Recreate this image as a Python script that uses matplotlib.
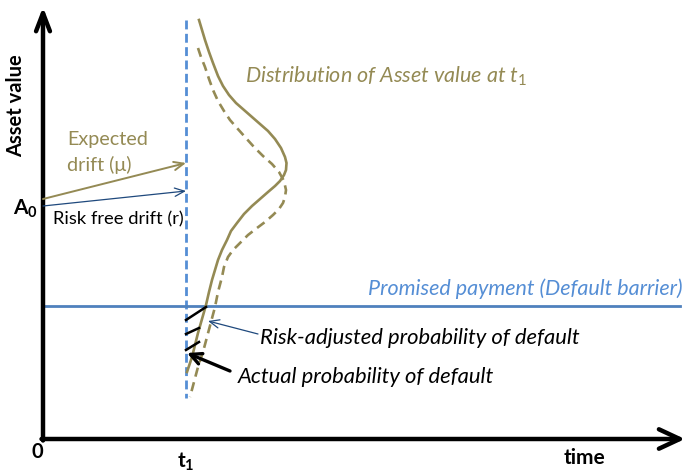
import matplotlib
matplotlib.use("Agg")
import matplotlib.pyplot as plt

plt.rcParams['font.family'] = ['Lato', 'DejaVu Sans']
plt.rcParams['mathtext.fontset'] = 'custom'
plt.rcParams['mathtext.rm'] = 'Lato'
plt.rcParams['mathtext.it'] = 'Lato:italic'
plt.rcParams['mathtext.bf'] = 'Lato:bold'

# ---- data (in canvas units: x to the right, y downward) ----
origin = (43, 439)
x_axis_end = 685
y_axis_end = 7
t1_x = 186
t1_line_top, t1_line_bottom = 20, 398
barrier_y = 306
barrier_x_end = 680
A0_y_expected = 199
A0_y_riskfree = 206
expected_drift_end = 163
riskfree_drift_end = 191

# distribution under the real-world (expected drift) measure
dist_real_x = [199, 202, 205, 209, 213, 218, 223, 229, 236, 244, 252, 260, 268, 275,
               281, 285, 286.5, 286, 284, 280, 275, 268, 260, 252, 244, 237, 231, 227,
               222, 218, 215, 212, 209, 206, 202, 198, 195, 192, 189, 187]
dist_real_y = [20, 30, 40, 52, 63, 76, 86, 95, 103, 110, 117, 124, 131, 139,
               148, 157, 163, 170, 175, 181, 186, 192, 199, 206, 214, 223, 231, 240,
               250, 260, 270, 280, 292, 305, 319, 333, 345, 357, 366, 372]
# distribution under the risk-neutral (risk-free drift) measure
dist_rn_x = [198, 201, 205, 209, 213, 218, 224, 230, 237, 245, 254, 263, 272, 279,
             284, 286, 285, 283, 279, 273, 265, 257, 248, 240, 233, 228, 224, 222,
             218, 215, 211, 207, 203, 198, 194, 190]
dist_rn_y = [48, 57, 67, 79, 90, 101, 111, 120, 128, 137, 147, 156, 164, 172,
             181, 190, 197, 203, 209, 215, 222, 228, 235, 243, 250, 257, 267, 277,
             292, 307, 322, 337, 352, 367, 382, 397]
# hatching lines of the default region
hatch_start_y = [320, 334, 350]
hatch_end = [(206, 307), (199, 328), (199, 342)]

olive = '#948A54'
blue = '#558ED5'
blue_line = '#4F81BD'
navy = '#1F497D'

fig = plt.figure(figsize=(6.88, 4.72), dpi=100)
ax = fig.add_axes([0, 0, 1, 1])
ax.set_xlim(0, 688)
ax.set_ylim(472, 0)
ax.axis('off')

# axes with arrows
ax.annotate('', xy=(origin[0], y_axis_end), xytext=(origin[0], origin[1] + 1.5),
            arrowprops=dict(arrowstyle='->,head_length=1.3,head_width=0.5', lw=3.2,
                            color='black', shrinkA=0, shrinkB=0, mutation_scale=10))
ax.annotate('', xy=(x_axis_end, origin[1]), xytext=(origin[0] - 1.5, origin[1]),
            arrowprops=dict(arrowstyle='->,head_length=1.5,head_width=0.7', lw=3.2,
                            color='black', shrinkA=0, shrinkB=0, mutation_scale=10))

# t1 dashed vertical
ax.plot([t1_x, t1_x], [t1_line_top, t1_line_bottom], color=blue, lw=2.0,
        dashes=(3.2, 1.6))

# barrier
ax.plot([origin[0], barrier_x_end], [barrier_y, barrier_y], color=blue_line, lw=2.0)

# distributions
ax.plot(dist_real_x, dist_real_y, color=olive, lw=1.9, solid_joinstyle='round')
ax.plot(dist_rn_x, dist_rn_y, color=olive, lw=1.9, dashes=(3.5, 2.2),
        dash_joinstyle='round')

# hatch lines
for ys, (xe, ye) in zip(hatch_start_y, hatch_end):
    ax.plot([t1_x, xe], [ys, ye], color='black', lw=1.8)

# drift arrows
ax.annotate('', xy=(t1_x, expected_drift_end), xytext=(origin[0], A0_y_expected),
            arrowprops=dict(arrowstyle='->,head_length=0.7,head_width=0.3', lw=1.4,
                            color=olive, shrinkA=0, shrinkB=0, mutation_scale=10))
ax.annotate('', xy=(t1_x, riskfree_drift_end), xytext=(origin[0], A0_y_riskfree),
            arrowprops=dict(arrowstyle='->,head_length=0.7,head_width=0.3', lw=0.9,
                            color=navy, shrinkA=0, shrinkB=0, mutation_scale=10))

# probability arrows
ax.annotate('', xy=(208, 321), xytext=(258, 334),
            arrowprops=dict(arrowstyle='->,head_length=0.7,head_width=0.3', lw=0.9,
                            color=navy, shrinkA=0, shrinkB=0, mutation_scale=10))
ax.annotate('', xy=(187, 353), xytext=(230, 371),
            arrowprops=dict(arrowstyle='->,head_length=0.8,head_width=0.4', lw=2.4,
                            color='black', shrinkA=0, shrinkB=0, mutation_scale=10))

# texts
ax.text(16, 106, 'Asset value', rotation=90, ha='center', va='center',
        fontsize=14.5, fontweight='bold')
ax.text(25, 209, r'$\mathbf{A}_\mathbf{0}$', ha='center', va='center', fontsize=15)
ax.text(37, 452, '0', ha='center', va='center', fontsize=14.5, fontweight='bold')
ax.text(186, 462, r'$\mathbf{t}_\mathbf{1}$', ha='center', va='center', fontsize=15)
ax.text(585, 458, 'time', ha='center', va='center', fontsize=15, fontweight='bold')

ax.text(67, 140, 'Expected', ha='left', va='center', fontsize=14.2, color=olive)
ax.text(67, 165, 'drift (μ)', ha='left', va='center', fontsize=14.2, color=olive)
ax.text(53, 219, 'Risk free drift (r)', ha='left', va='center', fontsize=13.2, color='black')

ax.text(245, 76, r'Distribution of Asset value at $t_1$', ha='left', va='center',
        fontsize=15.5, style='italic', color=olive)
ax.text(683, 289, 'Promised payment (Default barrier)', ha='right', va='center',
        fontsize=15.5, style='italic', color=blue)
ax.text(260, 338, 'Risk-adjusted probability of default', ha='left', va='center',
        fontsize=15.8, style='italic', color='black')
ax.text(238, 377, 'Actual probability of default', ha='left', va='center',
        fontsize=15.8, style='italic', color='black')

fig.savefig('out.png', dpi=100)
